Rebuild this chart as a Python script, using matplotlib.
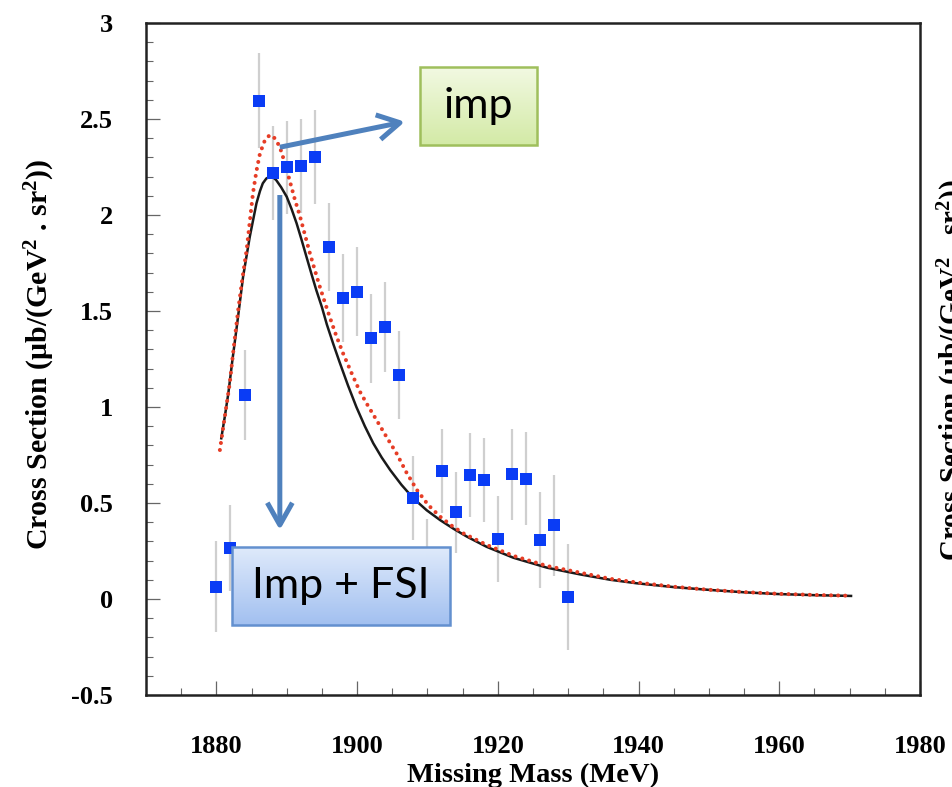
import numpy as np
import matplotlib
matplotlib.use("Agg")
import matplotlib.pyplot as plt
from matplotlib.patches import Rectangle, FancyArrowPatch

plt.rcParams["font.family"] = ["Liberation Serif", "DejaVu Serif"]
plt.rcParams["font.weight"] = "bold"
plt.rcParams["mathtext.fontset"] = "custom"
plt.rcParams["mathtext.rm"] = "Liberation Serif:bold"
plt.rcParams["mathtext.it"] = "Liberation Serif:italic:bold"
plt.rcParams["mathtext.bf"] = "Liberation Serif:bold"

# Measured differential cross section
mass = [1880, 1882, 1884, 1886, 1888, 1890, 1892, 1894, 1896, 1898, 1900,
        1902, 1904, 1906, 1908, 1910, 1912, 1914, 1916, 1918, 1920, 1922,
        1924, 1926, 1928, 1930]
xsec = [0.064, 0.264, 1.062, 2.595, 2.22, 2.248, 2.255, 2.302, 1.835, 1.569,
        1.60, 1.357, 1.418, 1.167, 0.526, 0.198, 0.668, 0.451, 0.646, 0.62,
        0.311, 0.649, 0.627, 0.307, 0.385, 0.012]
xsec_err = [0.237, 0.224, 0.234, 0.248, 0.245, 0.243, 0.245, 0.247, 0.229,
            0.229, 0.232, 0.232, 0.234, 0.228, 0.219, 0.22, 0.219, 0.21,
            0.218, 0.218, 0.224, 0.237, 0.242, 0.25, 0.263, 0.276]

# Model curve: impulse approximation + final-state interaction
fsi_mass = [1880.7, 1881.2, 1881.7, 1882.3, 1882.9, 1883.8, 1884.75, 1885.7,
            1886.2, 1886.6, 1887.1, 1887.6, 1888.0, 1888.5, 1889.2, 1890.0,
            1890.7, 1891.4, 1892.1, 1892.8, 1893.5, 1894.2, 1895.0, 1895.7,
            1896.6, 1897.5, 1898.7, 1899.9, 1901.1, 1902.3, 1903.5, 1904.7,
            1906.3, 1908.0, 1909.9, 1911.8, 1913.7, 1915.6, 1918.4, 1922.2,
            1927.0, 1931.7, 1936.0, 1939.7, 1945.0, 1950.2, 1955.0, 1959.7,
            1965.0, 1970.2]
fsi_xsec = [0.837, 0.95, 1.071, 1.25, 1.418, 1.679, 1.887, 2.061, 2.125,
            2.165, 2.19, 2.20, 2.198, 2.182, 2.145, 2.095, 2.03, 1.957, 1.872,
            1.783, 1.695, 1.609, 1.52, 1.43, 1.33, 1.235, 1.113, 1.0, 0.9,
            0.811, 0.737, 0.672, 0.595, 0.524, 0.462, 0.411, 0.366, 0.325,
            0.272, 0.215, 0.163, 0.128, 0.10, 0.082, 0.062, 0.047, 0.035,
            0.026, 0.02, 0.016]

# Model curve: impulse approximation only
imp_mass = [1880.5, 1881.0, 1881.9, 1882.5, 1883.1, 1883.7, 1884.3, 1885.2,
            1885.7, 1886.2, 1886.9, 1887.6, 1888.3, 1889.0, 1889.7, 1890.4,
            1891.1, 1891.9, 1892.6, 1893.3, 1894.0, 1894.7, 1895.4, 1896.1,
            1897.0, 1898.0, 1899.2, 1900.4, 1901.6, 1902.8, 1904.2, 1905.6,
            1907.0, 1908.5, 1910.1, 1911.8, 1913.4, 1915.1, 1918.4, 1922.2,
            1927.0, 1932.0, 1936.0, 1940.0, 1945.0, 1950.0, 1955.0, 1960.0,
            1965.0, 1970.0]
imp_xsec = [0.776, 0.90, 1.123, 1.32, 1.505, 1.67, 1.818, 2.113, 2.23, 2.321,
            2.39, 2.417, 2.40, 2.356, 2.275, 2.182, 2.088, 1.991, 1.895, 1.80,
            1.712, 1.627, 1.547, 1.47, 1.375, 1.28, 1.178, 1.08, 1.003, 0.93,
            0.843, 0.759, 0.66, 0.568, 0.49, 0.429, 0.383, 0.342, 0.282,
            0.225, 0.172, 0.135, 0.105, 0.085, 0.064, 0.048, 0.036, 0.027,
            0.021, 0.017]

xtick_values = [1880, 1900, 1920, 1940, 1960, 1980]
ytick_values = [-0.5, 0, 0.5, 1, 1.5, 2, 2.5, 3]
ytick_labels = ["-0.5", "0", "0.5", "1", "1.5", "2", "2.5", "3"]

ylabel_text = r"Cross Section (μb/(GeV$^{2}$ . sr$^{2}$))"
xlabel_text = "Missing Mass (MeV)"

W, H = 953, 787
fig = plt.figure(figsize=(W / 100, H / 100), dpi=100)
ax = fig.add_axes([146 / W, 1 - 695 / H, (920 - 146) / W, (695 - 23) / H])

# data
ax.errorbar(mass, xsec, yerr=xsec_err, fmt="none", ecolor="#cfcfcf",
            elinewidth=1.6, capsize=0, zorder=1)
ax.plot(fsi_mass, fsi_xsec, color="#1a1a1a", lw=1.8, zorder=2,
        solid_joinstyle="round")
ax.plot(imp_mass, imp_xsec, color="#e63d26", lw=2.9, ls=(0, (0.01, 1.75)),
        dash_capstyle="round", zorder=2)
ax.plot(mass, xsec, "s", color="#0a3cf5", ms=8.3, mew=0, zorder=3)

ax.set_xlim(1870, 1980)
ax.set_ylim(-0.5, 3)
ax.set_xticks(xtick_values)
ax.set_xticks(np.arange(1875, 1980, 5), minor=True)
ax.set_yticks(ytick_values, labels=ytick_labels)
ax.set_yticks(np.arange(-0.5, 3.0, 0.1), minor=True)

ax.tick_params(which="both", direction="in", top=False, right=False,
               color="#666666", labelsize=19)
ax.tick_params(which="major", length=10, width=0.9)
ax.tick_params(which="minor", length=5, width=0.8)
ax.tick_params(axis="y", which="major", pad=24)
ax.tick_params(axis="x", which="major", pad=29)
for lab in ax.get_xticklabels() + ax.get_yticklabels():
    lab.set_fontweight("bold")
for sp in ax.spines.values():
    sp.set_linewidth(1.8)
    sp.set_color("#222222")

fig.text(533 / W, 1 - 775 / H, xlabel_text, ha="center", va="center",
         fontsize=20.5, fontweight="bold")
fig.text(40 / W, 1 - 354 / H, ylabel_text, ha="center", va="center",
         rotation=90, fontsize=21.5, fontweight="bold")
# neighbouring panel's axis title, cut by the figure edge
fig.text(936 / W, 1 - 370 / H, ylabel_text, ha="left", va="center",
         rotation=90, fontsize=21, fontweight="bold")


def gradient_box(x0, x1, y0, y1, top, bottom, edge, text):
    top = np.array(matplotlib.colors.to_rgb(top))
    bottom = np.array(matplotlib.colors.to_rgb(bottom))
    t = np.linspace(0, 1, 128)[:, None, None]
    img = top + (bottom - top) * t
    ax.imshow(img, extent=(x0, x1, y0, y1), origin="upper", aspect="auto",
              interpolation="bilinear", zorder=5)
    ax.add_patch(Rectangle((x0, y0), x1 - x0, y1 - y0, fill=False,
                           edgecolor=edge, lw=1.8, zorder=6))
    ax.text((x0 + x1) / 2, (y0 + y1) / 2, text, ha="center", va="center",
            family=["Lato", "DejaVu Sans"], fontweight="normal",
            fontsize=31, color="black", zorder=7)


gradient_box(1908.93, 1925.57, 2.365, 2.771, "#f2f9e2", "#d3eaa6",
             "#9fbf5c", "imp")
gradient_box(1882.19, 1913.2, -0.135, 0.271, "#dfeafb", "#a2c0f0",
             "#6390cf", "Imp + FSI")

arrow_color = "#4f81bd"
for start, end in [((1889.02, 2.353), (1906.8, 2.486)),
                   ((1889.02, 2.104), (1889.02, 0.359))]:
    ax.add_patch(FancyArrowPatch(start, end,
                                 arrowstyle="->,head_length=0.8,head_width=0.45",
                                 mutation_scale=20, lw=3.6, color=arrow_color,
                                 capstyle="butt", joinstyle="round",
                                 zorder=4, shrinkA=0, shrinkB=0))

ax.set_xlim(1870, 1980)
ax.set_ylim(-0.5, 3)

fig.savefig("out.png", dpi=100)
